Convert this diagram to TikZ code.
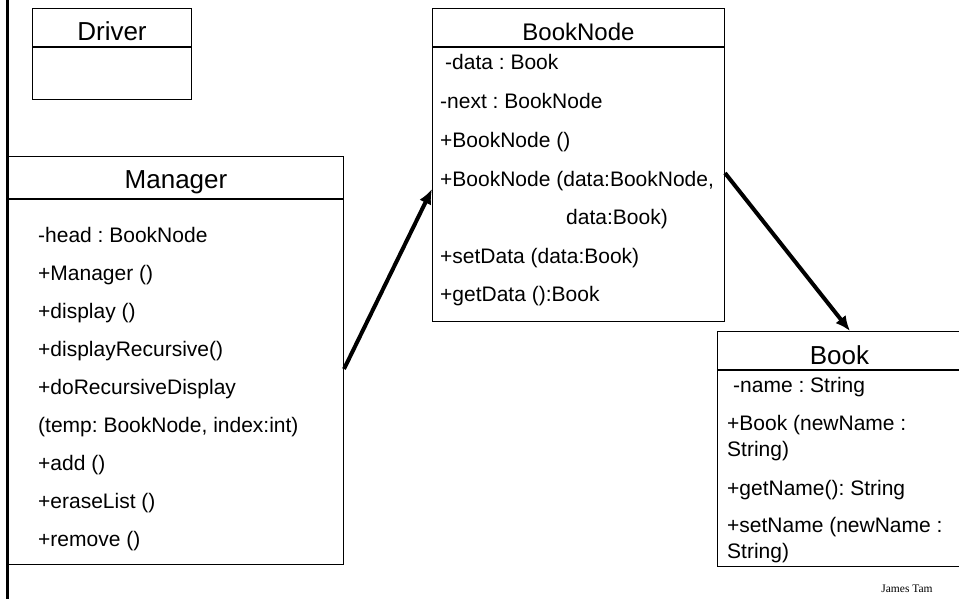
\documentclass[tikz,border=0pt]{standalone}
\usepackage{fontspec}
\setmainfont{Liberation Sans}
\newfontfamily\tamfont{Liberation Serif}
\usetikzlibrary{calc,positioning,arrows.meta}
\frenchspacing
\tikzset{%
  classhead/.style={rectangle,draw,line width=1pt,inner sep=0pt,anchor=north west,
    text height=27pt,text depth=0pt,font=\fontsize{26}{30}\selectfont},
  classbody/.style={rectangle,draw,line width=1pt,inner sep=0pt},
  member/.style={anchor=west,inner sep=0pt,text height=15pt,text depth=4pt,
    font=\fontsize{21}{25}\selectfont},
  assoc/.style={line width=4pt,-{Latex[length=15pt,width=13pt]}}
}

\begin{document}
\begin{tikzpicture}[x=1pt,y=-1pt]
  \useasboundingbox (0,0) rectangle (959,599);
  \draw[line width=3pt] (7.5,-5) -- (7.5,604);

  % Driver
  \node[classhead,minimum width=159pt,minimum height=38pt] (dh) at (32,8) {Driver};
  \node[classbody,minimum width=159pt,minimum height=52pt,below=0pt of dh] (db) {};

  % Manager
  \node[classhead,minimum width=335pt,minimum height=42pt,text height=22pt] (mh) at (8,156) {Manager};
  \node[classbody,minimum width=335pt,minimum height=365pt,below=0pt of mh] (mb) {};
  \node[member] (mg1) at (38,237) {-head : BookNode};
  \node[member] (mg2) at (38,275) {+Manager ()};
  \node[member] (mg3) at (38,313) {+display ()};
  \node[member] (mg4) at (38,351) {+displayRecursive()};
  \node[member] (mg5) at (38,389) {+doRecursiveDisplay};
  \node[member] (mg6) at (38,427) {(temp: BookNode, index:int)};
  \node[member] (mg7) at (38,465) {+add ()};
  \node[member] (mg8) at (38,503) {+eraseList ()};
  \node[member] (mg9) at (38,541) {+remove ()};

  % BookNode
  \node[classhead,minimum width=292pt,minimum height=38pt,font=\fontsize{24}{28}\selectfont] (bh) at (432,8) {BookNode};
  \node[classbody,minimum width=292pt,minimum height=274pt,below=0pt of bh] (bb) {};
  \node[member] (bn1) at (445,64) {-data : Book};
  \node[member] (bn2) at (440,103) {-next : BookNode};
  \node[member] (bn3) at (440,142) {+BookNode ()};
  \node[member] (bn4) at (440,181) {+BookNode (data:BookNode,};
  \node[member] (bn5) at (566,219) {data:Book)};
  \node[member] (bn6) at (440,258) {+setData (data:Book)};
  \node[member] (bn7) at (440,296) {+getData ():Book};

  % Book
  \node[classhead,minimum width=244pt,minimum height=38pt] (kh) at (717,331) {Book};
  \node[classbody,minimum width=244pt,minimum height=196pt,below=0pt of kh] (kb) {};
  \node[member] (bk1) at (733,387) {-name : String};
  \node[member] (bk2) at (727,425) {+Book (newName :};
  \node[member] (bk3) at (727,451) {String)};
  \node[member] (bk4) at (727,490) {+getName(): String};
  \node[member] (bk5) at (727,527) {+setName (newName :};
  \node[member] (bk6) at (727,553) {String)};

  % links
  \draw[assoc] ($(mb.north east)+(0,170)$) -- ($(bb.north west)+(0,142)$);
  \draw[assoc] ($(bb.north east)+(0,126)$) -- ($(kh.north west)+(133,0)$);

  \node[font=\tamfont\fontsize{11.5}{13}\selectfont] (credit) at (907,589) {James Tam};
\end{tikzpicture}
\end{document}
